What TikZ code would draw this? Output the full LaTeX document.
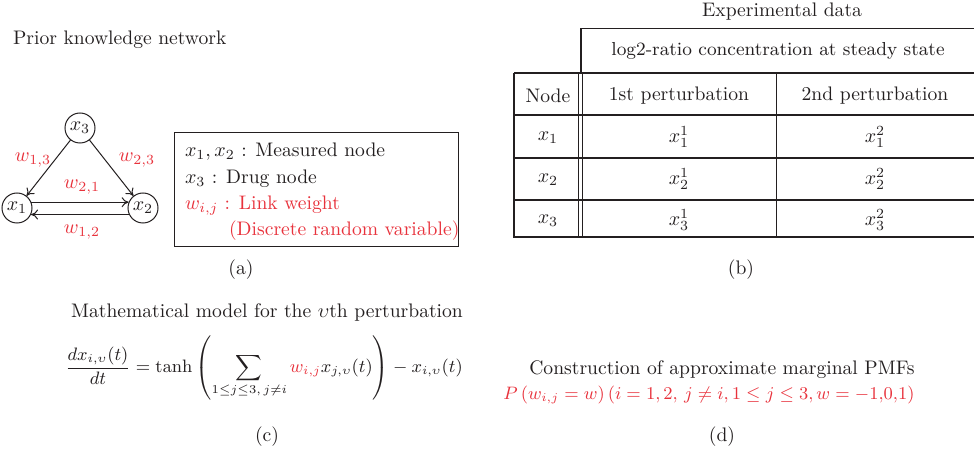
\documentclass[tikz,border=0pt]{standalone}
\usepackage{amsmath}
\usetikzlibrary{arrows.meta}
\definecolor{wred}{RGB}{232,50,60}
\definecolor{ink}{RGB}{35,31,32}
\begin{document}
\begin{tikzpicture}[x=0.5pt,y=-0.5pt,
  every node/.style={font=\fontsize{9.8}{12}\selectfont, text=ink},
  gnode/.style={draw=ink, circle, inner sep=0.5pt, minimum size=15pt, line width=0.5pt},
  link/.style={draw=ink, line width=0.5pt, -{To[length=3.5pt,width=5pt]}},
  wlab/.style={text=wred},
  cell/.style={inner sep=0.5pt},
  tline/.style={draw=ink, line width=0.5pt},
  tframe/.style={draw=ink, line width=0.9pt}]
\useasboundingbox (0,0) rectangle (974,454);
% (a)
\node[anchor=west] (ptitle) at (6,40) {Prior knowledge network};
\node[gnode] (x3) at (80,128) {$x_3$};
\node[gnode] (x1) at (17,208) {$x_1$};
\node[gnode] (x2) at (143,208) {$x_2$};
\draw[link] (x3) -- (x1);
\draw[link] (x3) -- (x2);
\draw[link] (x1.22) -- (x2.158);
\draw[link] (x2.205) -- (x1.-25);
\node[wlab] (w13) at (33,160) {$w_{1,3}$};
\node[wlab] (w23) at (137,160) {$w_{2,3}$};
\node[wlab] (w21) at (82,187) {$w_{2,1}$};
\node[wlab] (w12) at (82,232) {$w_{1,2}$};
\node[draw=ink, line width=0.6pt, anchor=north west, minimum width=142pt, minimum height=57pt, inner sep=0pt] (legend) at (174,132) {};
\node[anchor=west] (l1) at (178,152) {$x_1, x_2$ : Measured node};
\node[anchor=west] (l2) at (178,179) {$x_3$ : Drug node};
\node[anchor=west, text=wred] (l3) at (178,206) {$w_{i,j}$ : Link weight};
\node[anchor=west, text=wred] (l4) at (222,231) {(Discrete random variable)};
\node (capa) at (241,270) {(a)};
% (b)
\node (etitle) at (782,12) {Experimental data};
\draw[tframe] (581,73) -- (581,28.5) -- (974,28.5);
\draw[tframe] (514,73) -- (974,73);
\draw[tframe] (514,73) -- (514,237) -- (974,237);
\draw[tline] (578.8,73) -- (578.8,237);
\draw[tline] (582.6,73) -- (582.6,237);
\draw[tline] (776,73) -- (776,237);
\draw[tframe] (514,115) -- (974,115);
\draw[tframe] (514,158) -- (974,158);
\draw[tframe] (514,200) -- (974,200);
\node[font=\fontsize{9.4}{12}\selectfont] (hdr) at (778,51) {log2-ratio concentration at steady state};
\node (hnode) at (548,96) {Node};
\node (h1) at (679,96) {1st perturbation};
\node (h2) at (875,96) {2nd perturbation};
\node[cell] (r1) at (548,138) {$x_1$};
\node[cell] (r2) at (548,180) {$x_2$};
\node[cell] (r3) at (548,221) {$x_3$};
\node[cell] (c11) at (679,137) {$x_1^1$};
\node[cell] (c12) at (875,137) {$x_1^2$};
\node[cell] (c21) at (679,179) {$x_2^1$};
\node[cell] (c22) at (875,179) {$x_2^2$};
\node[cell] (c31) at (679,220) {$x_3^1$};
\node[cell] (c32) at (875,220) {$x_3^2$};
\node (capb) at (741,270) {(b)};
% (c)
\node (mtitle) at (267,312) {Mathematical model for the $\upsilon$th perturbation};
\node[font=\fontsize{9.2}{12}\selectfont] (eq) at (264,368) {$\displaystyle \frac{dx_{i,\upsilon}(t)}{dt} = \tanh\left(\sum_{1\le j\le 3,\, j\ne i} {\color{wred} w_{i,j}} x_{j,\upsilon}(t)\right) - x_{i,\upsilon}(t)$};
\node (capc) at (267,437) {(c)};
% (d)
\node (dtitle) at (722,370) {Construction of approximate marginal PMFs};
\node[text=wred, font=\fontsize{8.9}{12}\selectfont] (dform) at (709,395) {$P\left(w_{i,j}=w\right)(i=1,2,\, j\ne i, 1\le j\le 3, w=-1{,}0{,}1)$};
\node (capd) at (722,437) {(d)};
\end{tikzpicture}
\end{document}
